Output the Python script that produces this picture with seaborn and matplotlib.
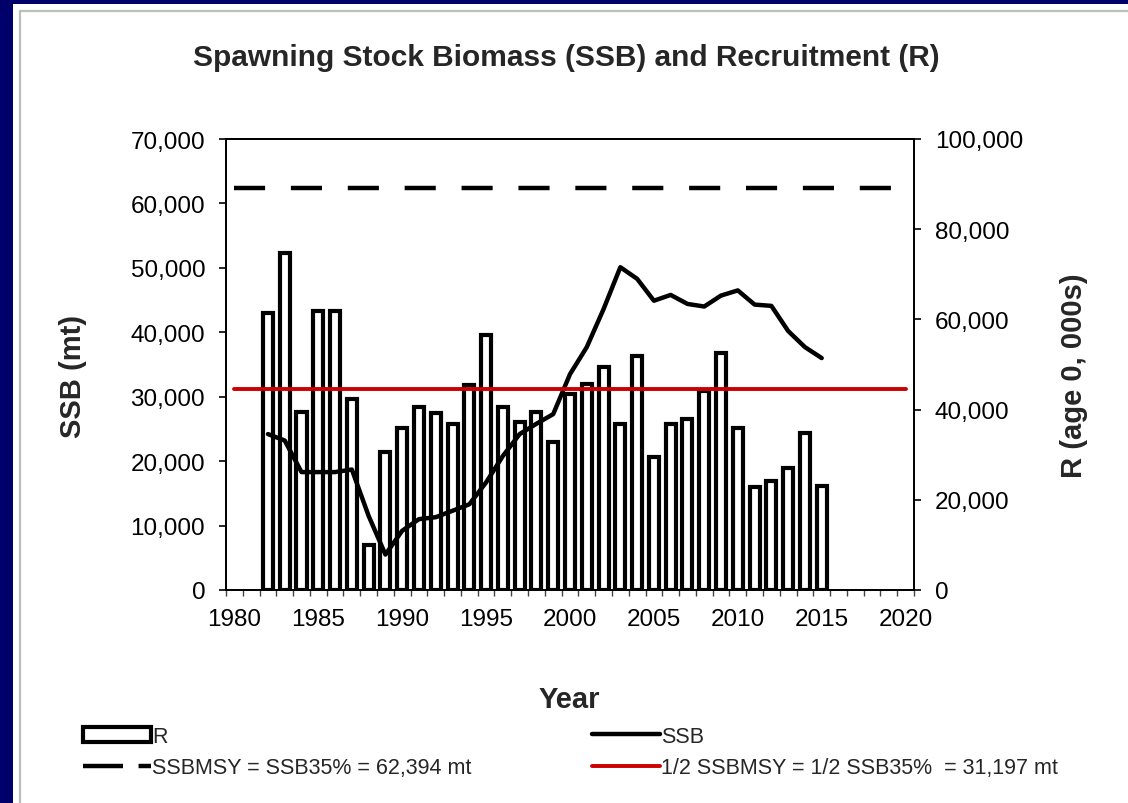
import numpy as np
import matplotlib
matplotlib.use("Agg")
import matplotlib.pyplot as plt
import seaborn as sns
from matplotlib.patches import Patch, Rectangle
from matplotlib.lines import Line2D
from matplotlib.ticker import FuncFormatter

# ---------------- data ----------------
years = list(range(1982, 2016))
recruitment = [61500, 74700, 39500, 61900, 61900, 42300, 10000, 30500, 35900, 40500,
               39200, 36700, 45500, 56500, 40500, 37300, 39500, 32900, 43500, 45700,
               49500, 36800, 51800, 29400, 36700, 37900, 44200, 52500, 35900, 22800,
               24100, 27000, 34800, 23000]
ssb = [24200, 23200, 18300, 18300, 18300, 18700, 11500, 5500, 9200, 11000,
       11300, 12300, 13300, 16700, 20800, 24200, 25800, 27300, 33500, 37700,
       43600, 50100, 48300, 44900, 45800, 44400, 44000, 45700, 46500, 44300,
       44100, 40200, 37700, 36000]
ssb_msy = 62394
half_ssb_msy = 31197
ref_years = [1980, 2020]
xtick_years = list(range(1980, 2021, 5))
ssb_ticks = list(range(0, 70001, 10000))
r_ticks = list(range(0, 100001, 20000))

title = "Spawning Stock Biomass (SSB) and Recruitment (R)"
labels = ["R", "SSBMSY = SSB35% = 62,394 mt", "SSB", "1/2 SSBMSY = 1/2 SSB35%  = 31,197 mt"]

# ---------------- style ----------------
sns.set_theme(style="ticks")
plt.rcParams["font.family"] = ["Liberation Sans", "DejaVu Sans"]

W, H = 1128, 804
fig = plt.figure(figsize=(W / 100, H / 100), dpi=100)
fig.patch.set_facecolor("#00006B")
# white panel + thin grey frame
fig.patches.append(Rectangle((13 / W, 0), 1 - 13 / W, 1 - 5 / H, transform=fig.transFigure,
                             facecolor="white", edgecolor="none", zorder=-10))
fig.lines.append(Line2D([19.5 / W, 19.5 / W], [0, 1 - 12 / H], transform=fig.transFigure,
                        color="#BDBDBD", lw=1.6))
fig.lines.append(Line2D([19.5 / W, 1], [1 - 12 / H, 1 - 12 / H], transform=fig.transFigure,
                        color="#BDBDBD", lw=1.6))

ax = fig.add_axes([226 / W, 1 - 591 / H, (914 - 226) / W, (591 - 140) / H])
ax2 = ax.twinx()

# bars (R, right axis)
sns.barplot(x=years, y=recruitment, native_scale=True, width=0.6, color="white",
            saturation=1, edgecolor="black", linewidth=3.0, errorbar=None, ax=ax2)
for p in ax2.patches:
    p.set_linewidth(3.0)
    p.set_edgecolor("black")
    p.set_joinstyle("miter")

# SSB line (left axis)
sns.lineplot(x=years, y=ssb, color="black", linewidth=3.2, ax=ax,
             solid_joinstyle="round", solid_capstyle="round")
ax.plot(ref_years, [ssb_msy] * 2, color="black", lw=3.2, linestyle=(0, (7.0, 5.8)))
ax.plot(ref_years, [half_ssb_msy] * 2, color="#CC0000", lw=2.8)

ax.set_zorder(ax2.get_zorder() + 1)
ax.patch.set_visible(False)

ax.set_xlim(1979.5, 2020.5)
ax.set_ylim(0, 70000)
ax2.set_ylim(0, 100000)
ax.set_yticks(ssb_ticks)
ax2.set_yticks(r_ticks)
ax.set_xticks(xtick_years)
ax.set_xticks(np.arange(1979.5, 2021, 1), minor=True)
fmt = FuncFormatter(lambda v, p: f"{int(v):,}")
ax.yaxis.set_major_formatter(fmt)
ax2.yaxis.set_major_formatter(fmt)
ax.set_xlabel("")
ax.set_ylabel("")
ax2.set_ylabel("")

ax.tick_params(axis="y", which="major", left=True, right=False, length=5, width=1.2,
               direction="out", labelsize=17.5, pad=10, colors="black")
ax2.tick_params(axis="y", which="major", right=True, left=False, length=5, width=1.2,
                direction="out", labelsize=17.5, pad=10, colors="black")
ax.tick_params(axis="x", which="major", length=0, labelsize=17.5, pad=13, colors="black")
ax.tick_params(axis="x", which="minor", bottom=True, length=4, width=1.0, direction="out",
               color="#444444")
ax2.tick_params(axis="x", which="both", bottom=False, top=False)

for a in (ax, ax2):
    for s in a.spines.values():
        s.set_visible(True)
        s.set_linewidth(1.3)
        s.set_color("black")

# texts
fig.text(566 / W, 1 - 58 / H, title, ha="center", va="center", fontsize=21.5, fontweight="bold")
fig.text(73 / W, 1 - 376 / H, "SSB (mt)", ha="center", va="center", rotation=90,
         fontsize=21, fontweight="bold")
fig.text(1074 / W, 1 - 376 / H, "R (age 0, 000s)", ha="center", va="center", rotation=90,
         fontsize=21, fontweight="bold")
fig.text(569 / W, 1 - 700 / H, "Year", ha="center", va="center", fontsize=21, fontweight="bold")

# legend
handles = [
    Patch(facecolor="white", edgecolor="black", linewidth=3.0),
    Line2D([], [], color="black", lw=3.2, linestyle=(0, (9.0, 3.5))),
    Line2D([], [], color="black", lw=3.2),
    Line2D([], [], color="#CC0000", lw=2.8),
]
fig.legend(handles, labels, ncol=2, loc="upper left", bbox_to_anchor=(83 / W, 1 - 727 / H),
           frameon=False, fontsize=15.5, handlelength=3.16, handleheight=0.7,
           handletextpad=0.05, columnspacing=5.6, labelspacing=0.48, borderpad=0,
           borderaxespad=0)

fig.savefig("out.png", dpi=100, facecolor=fig.get_facecolor())
